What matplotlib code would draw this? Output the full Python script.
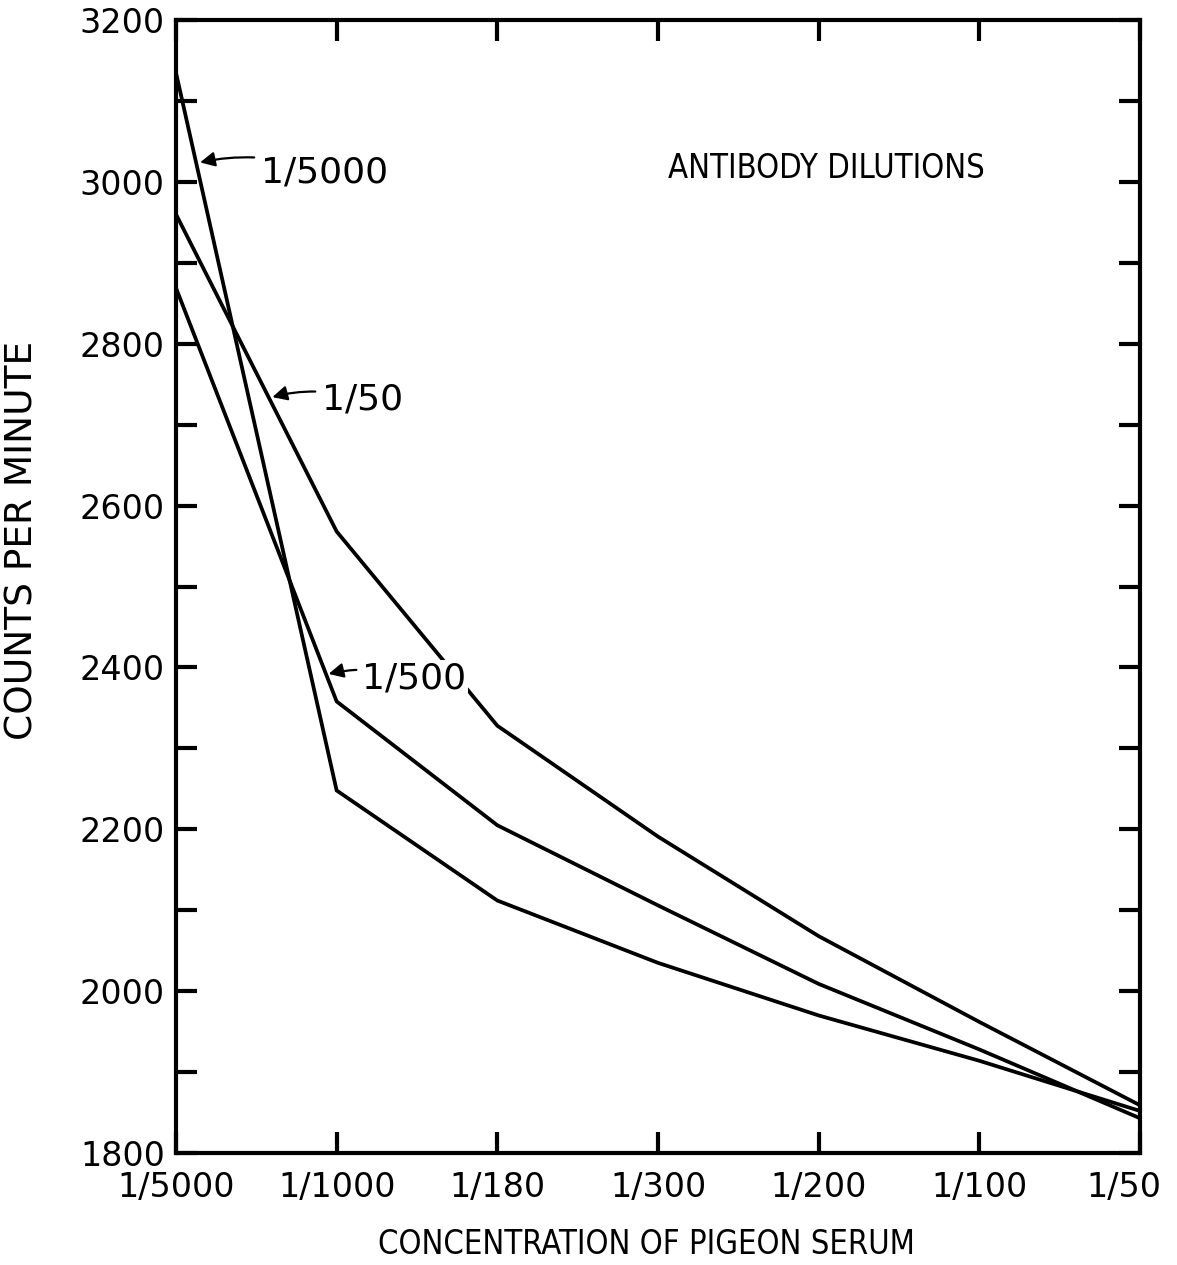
import numpy as np
import matplotlib
matplotlib.use("Agg")
import matplotlib.pyplot as plt
from matplotlib.transforms import ScaledTranslation

# --- data ---
serum = ["1/5000", "1/1000", "1/180", "1/300", "1/200", "1/100", "1/50"]
cpm_1_5000 = [3135, 2248, 2112, 2035, 1970, 1914, 1852]
cpm_1_50 = [2960, 2568, 2328, 2191, 2068, 1962, 1859]
cpm_1_500 = [2869, 2358, 2205, 2106, 2009, 1928, 1843]

plt.rcParams['font.family'] = ['DejaVu Sans']

fig = plt.figure(figsize=(11.77, 12.65), dpi=100)
ax = fig.add_axes([0.1495, 0.0885, 0.8191, 0.8957])

x = np.arange(len(serum))
for ys in (cpm_1_5000, cpm_1_50, cpm_1_500):
    ax.plot(x, ys, color='black', lw=2.7, solid_joinstyle='miter', zorder=2)

ax.set_xlim(0, len(serum) - 1)
ax.set_ylim(1800, 3200)

ax.set_xticks(x)
ax.set_xticklabels(serum)
ax.set_yticks(np.arange(1800, 3201, 200))
ax.set_yticks(np.arange(1900, 3200, 200), minor=True)
ax.tick_params(which='both', direction='in', length=15, width=3,
               top=True, right=True, labelsize=24)
ax.tick_params(axis='y', pad=8)
ax.tick_params(axis='x', pad=13)
for s in ax.spines.values():
    s.set_linewidth(3)

# last x label sits a bit left so it stays on the page
last = ax.get_xticklabels()[-1]
last.set_transform(last.get_transform() + ScaledTranslation(-12 / 72, 0, fig.dpi_scale_trans))

# --- curve labels with arrows ---
arrow = dict(arrowstyle='-|>', color='black', lw=1.6, mutation_scale=22,
             shrinkA=3, shrinkB=0, connectionstyle='arc3,rad=0.15')
ax.annotate("1/5000", xy=(0.15, 3024), xytext=(0.53, 3012), fontsize=26,
            va='center', ha='left', arrowprops=arrow)
ax.annotate("1/50", xy=(0.60, 2734), xytext=(0.91, 2731), fontsize=26,
            va='center', ha='left', arrowprops=arrow)
ax.annotate("1/500", xy=(0.95, 2392), xytext=(1.16, 2386), fontsize=26,
            va='center', ha='left', arrowprops=arrow,
            bbox=dict(boxstyle='square,pad=0.05', fc='white', ec='none'), zorder=3)

cond = dict(fontsize=23.5, fontstretch='condensed')
ax.text(3.06, 3017, "ANTIBODY DILUTIONS", va='center', ha='left', **cond)
ax.set_xlabel("CONCENTRATION OF PIGEON SERUM", **cond)
ax.set_ylabel("COUNTS PER MINUTE", fontsize=27)
ax.xaxis.set_label_coords(0.4876, -0.066)
ax.yaxis.set_label_coords(-0.141, 0.541)

fig.savefig("out.png", dpi=100)
